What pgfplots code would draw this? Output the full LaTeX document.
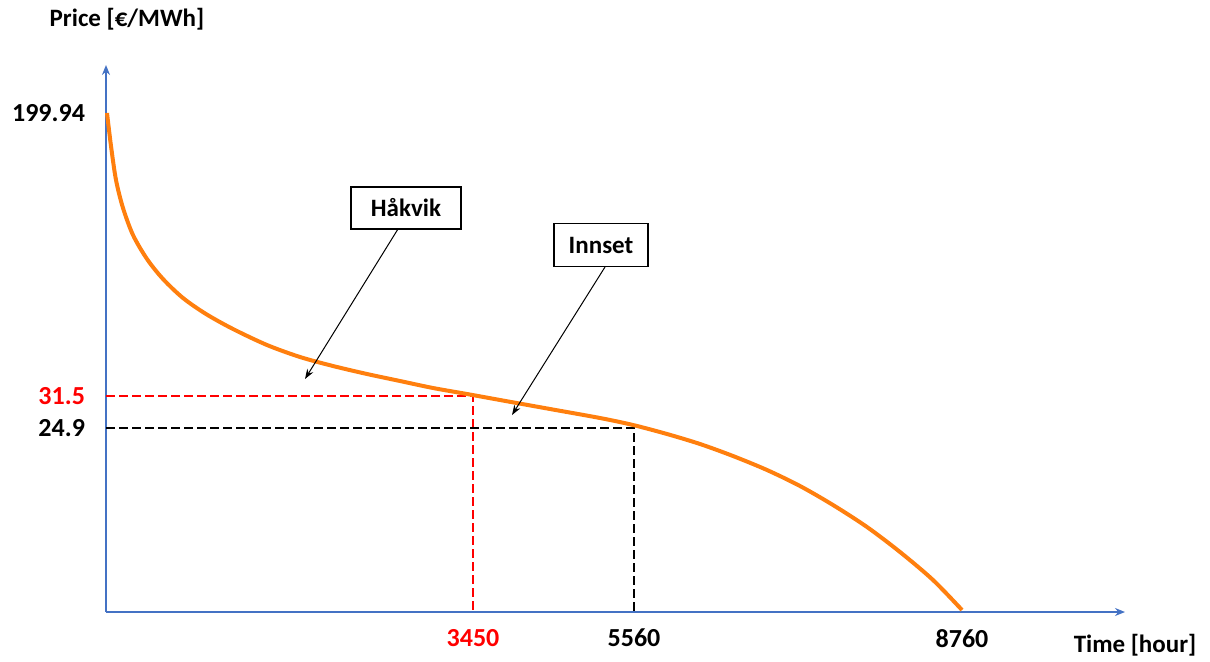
\documentclass[border=0pt]{standalone}
\usepackage{fontspec}
\setmainfont{Carlito}
\usepackage{pgfplots}
\pgfplotsset{compat=1.18}
\usetikzlibrary{arrows.meta}

\definecolor{axisblue}{RGB}{68,114,196}
\definecolor{curveorange}{RGB}{255,127,14}
\definecolor{markred}{RGB}{255,0,0}

\begin{document}
\begin{tikzpicture}[font=\fontsize{12.5}{15}\selectfont\bfseries]
% page frame: 1 px of the reference = 0.5pt, axis origin at px (106,612)
\useasboundingbox (-53pt,-24.5pt) rectangle (552pt,306pt);
\begin{axis}[
    scale only axis,
    width=509.5pt, height=273.5pt,
    xmin=0, xmax=1019, ymin=0, ymax=547,
    axis lines=left,
    axis line style={draw=axisblue, line width=0.7pt, -{Stealth[length=5pt,width=4pt]}},
    major tick length=0,
    clip=false,
    xtick={367,528,856},
    xticklabels={\textcolor{markred}{3450},5560,8760},
    xticklabel style={yshift=-5pt, font=\fontsize{13}{15}\selectfont\bfseries},
    ytick={184,216,499},
    yticklabels={24.9,\textcolor{markred}{31.5},199.94},
    yticklabel style={xshift=-7pt, font=\fontsize{13}{15}\selectfont\bfseries},
]
% guide lines (schematic positions)
\addplot[markred, line width=1.3pt, dash pattern=on 4.5pt off 2pt] coordinates {(0,216) (367,216) (367,0)};
\addplot[black, line width=1.3pt, dash pattern=on 4.5pt off 2pt] coordinates {(0,184) (528,184) (528,0)};

% price duration curve
\addplot[curveorange, line width=2pt, smooth, tension=0.5] coordinates {
    (1,499) (5,466) (10,432) (17,404) (27,377) (41,353) (57,333)
    (77,314) (100,298) (127,283) (161,267) (194,255) (227,246)
    (261,238) (294,231) (327,224) (361,218) (394,212) (444,203)
    (494,194) (527,187) (561,178) (594,168) (627,156) (661,142)
    (694,126) (727,107) (761,85) (794,60) (827,32) (856,2)
};

% labels and annotations
\node at (axis cs:21,593) {Price [€/MWh]};
\node at (axis cs:1029,-33) {Time [hour]};
\node[draw=black, line width=0.6pt, fill=white, minimum width=55pt, minimum height=21pt] (hak) at (axis cs:300,404) {Håkvik};
\node[draw=black, line width=0.6pt, fill=white, minimum width=47pt, minimum height=21.5pt] (inn) at (axis cs:495,367) {Innset};
\draw[black, line width=0.5pt, -{Stealth[length=5pt,width=3.5pt]}] (axis cs:292,383) -- (axis cs:199,233);
\draw[black, line width=0.5pt, -{Stealth[length=5pt,width=3.5pt]}] (axis cs:499,345) -- (axis cs:406,197);
\end{axis}
\end{tikzpicture}
\end{document}
